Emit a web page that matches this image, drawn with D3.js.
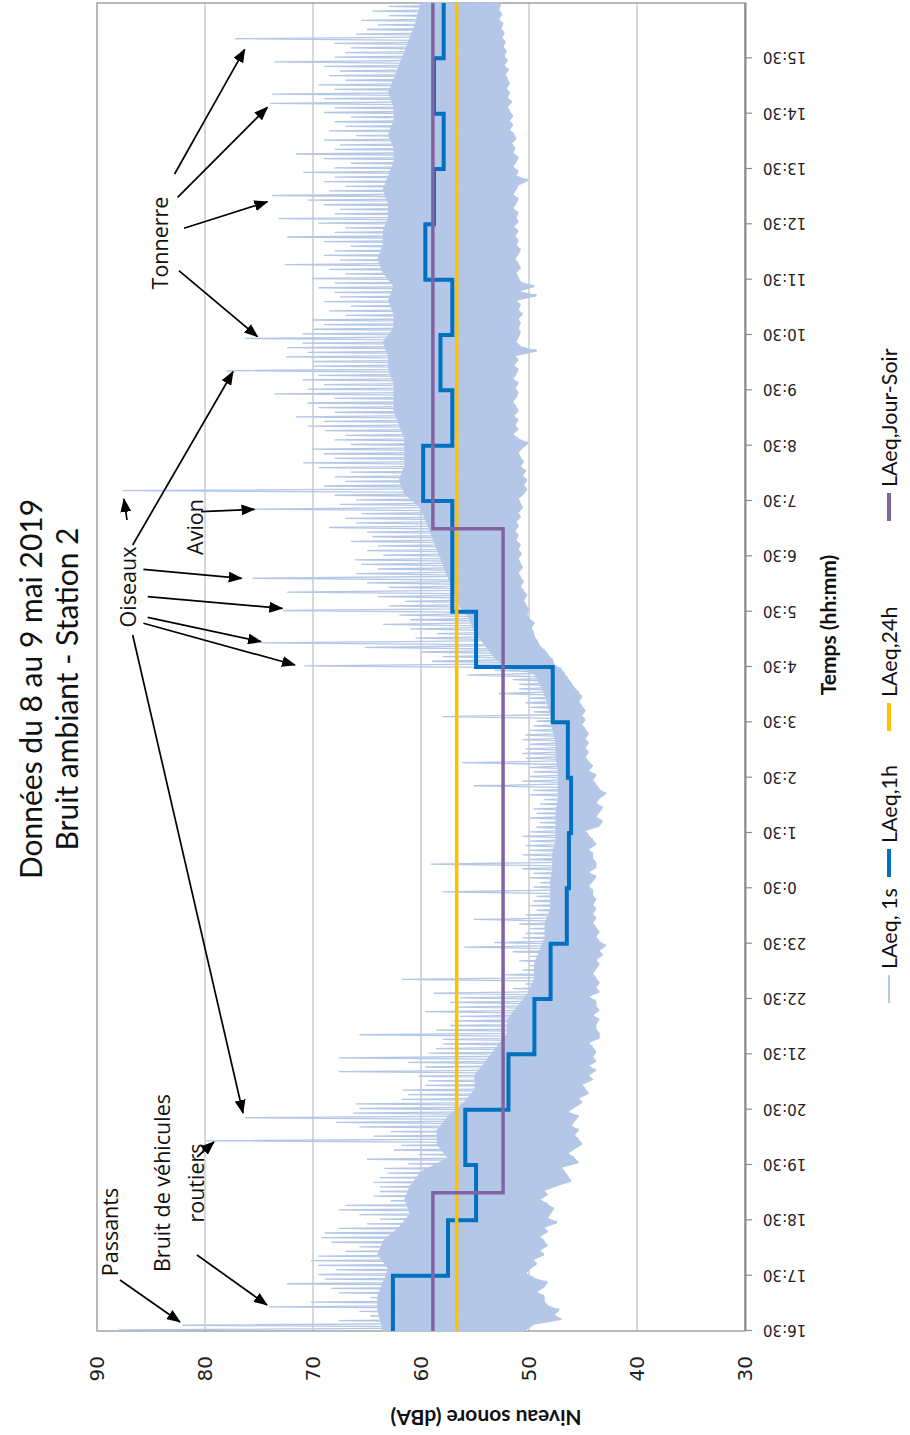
<!DOCTYPE html>
<html>
<head>
<meta charset="utf-8">
<script src="https://cdn.jsdelivr.net/npm/d3@7"></script>
<style>
  html, body { margin: 0; padding: 0; background: #ffffff; }
  svg { display: block; }
</style>
</head>
<body>
<svg id="chart" width="910" height="1435"></svg>
<script>
// Time is expressed in hours after midnight on 8 May (16.5 = 16:30, 40.5 = 16:30 on 9 May)
const startHour = 16.5;
const endHour = 40.5;

const tickLabels = ["16:30","17:30","18:30","19:30","20:30","21:30","22:30","23:30",
  "0:30","1:30","2:30","3:30","4:30","5:30","6:30","7:30","8:30","9:30","10:30",
  "11:30","12:30","13:30","14:30","15:30"];

const levelTicks = [30, 40, 50, 60, 70, 80, 90];

// LAeq,1h — one value per hour, starting at 16:30
const laeq1h = [62.6, 57.5, 54.9, 55.9, 51.9, 49.5, 48.0, 46.5, 46.3, 46.1, 46.4, 47.8,
                54.9, 57.1, 57.1, 59.8, 57.1, 58.2, 57.1, 59.6, 58.8, 57.9, 58.8, 57.9];

// LAeq,24h
const laeq24h = 56.7;

// LAeq,Jour-Soir — period boundaries (hours) and level of each period
const jourSoirBounds = [16.5, 19, 31, 40.5];
const jourSoirLevels = [58.9, 52.4, 58.9];

// LAeq,1s — highest and lowest level in each 5-minute slice (12 slices per hour)
const peak1s = [
  88.0, 82.1, 67.6, 64.7, 65.7, 74.1, 70.2, 64.7, 67.6, 68.3, 72.4, 68.9,
  69.5, 67.9, 69.5, 70.2, 69.5, 67.0, 65.7, 68.3, 69.2, 68.9, 67.6, 65.0,
  63.8, 65.7, 67.6, 67.0, 62.8, 64.4, 63.8, 63.8, 64.4, 63.8, 63.1, 63.4,
  61.2, 65.0, 60.2, 62.5, 61.8, 80.0, 64.4, 62.8, 65.7, 67.9, 76.3, 66.3,
  65.7, 66.0, 61.8, 61.2, 61.7, 59.6, 59.3, 60.2, 67.6, 59.6, 61.2, 67.6,
  59.3, 58.6, 58.0, 58.0, 65.7, 58.6, 57.3, 57.0, 56.4, 59.6, 56.7, 57.3,
  56.4, 58.8, 51.5, 50.3, 61.8, 52.2, 50.6, 49.9, 50.9, 49.9, 51.5, 56.0,
  53.2, 50.6, 50.3, 49.9, 50.9, 55.1, 50.3, 49.3, 49.9, 49.6, 49.3, 58.0,
  49.6, 49.0, 49.9, 49.6, 50.6, 59.1, 49.9, 50.6, 49.9, 50.3, 49.9, 50.6,
  49.9, 49.3, 49.0, 49.9, 49.3, 49.6, 49.0, 48.6, 49.9, 49.6, 55.1, 50.6,
  49.9, 49.6, 49.9, 56.2, 50.3, 50.6, 50.3, 49.9, 50.6, 50.3, 49.9, 49.6,
  49.3, 58.0, 49.6, 49.9, 50.3, 49.9, 52.8, 50.9, 50.9, 51.5, 55.7, 53.2,
  70.8, 59.0, 58.0, 60.0, 65.2, 74.8, 60.5, 58.5, 61.0, 63.5, 61.0, 62.0,
  72.8, 63.0, 61.5, 64.0, 72.4, 63.0, 65.0, 75.6, 66.0, 64.0, 65.5, 66.1,
  63.5, 65.0, 64.0, 66.5, 64.5, 65.0, 68.5, 66.0, 67.0, 65.5, 75.8, 67.5,
  66.0, 68.0, 87.6, 69.0, 67.0, 68.0, 66.5, 69.5, 70.9, 68.0, 69.0, 70.1,
  66.5, 68.0, 67.0, 68.9, 70.5, 69.0, 71.6, 68.0, 69.5, 70.5, 68.0, 73.6,
  70.5, 69.0, 71.0, 69.5, 78.0, 70.0, 70.0, 72.5, 70.5, 72.4, 71.0, 76.3,
  71.0, 70.0, 69.0, 70.1, 67.0, 68.5, 66.5, 69.0, 67.5, 68.0, 69.5, 68.0,
  70.1, 67.0, 68.5, 72.6, 67.5, 69.0, 68.0, 66.5, 69.0, 72.4, 68.0, 67.0,
  69.5, 73.2, 68.0, 67.5, 69.0, 70.5, 73.8, 68.5, 67.0, 69.0, 68.0, 70.9,
  68.0, 66.5, 69.0, 71.6, 68.0, 67.5, 69.0, 66.0, 68.5, 67.0, 68.0, 66.5,
  69.0, 68.0, 74.0, 69.0, 73.8, 68.0, 69.5, 67.0, 68.5, 67.5, 69.0, 73.6,
  68.0, 67.0, 66.5, 68.0, 77.2, 66.0, 65.0, 64.0, 65.5, 63.0, 64.5, 63.0
];
const trough1s = [
  50.5, 49.5, 47.0, 47.7, 47.2, 48.3, 48.6, 48.6, 49.3, 48.6, 48.3, 49.6,
  50.3, 49.9, 49.3, 49.6, 48.6, 49.0, 48.3, 48.6, 49.0, 48.3, 48.6, 47.4,
  48.3, 48.0, 47.7, 48.3, 49.0, 48.3, 48.6, 47.4, 46.1, 46.4, 46.7, 47.0,
  45.4, 45.8, 46.4, 45.8, 45.1, 45.4, 45.8, 45.4, 46.1, 45.8, 45.4, 46.4,
  45.8, 45.1, 45.4, 44.5, 44.8, 45.1, 44.1, 44.5, 43.8, 44.5, 43.8, 44.1,
  43.8, 44.1, 44.5, 43.5, 43.5, 43.8, 43.8, 43.5, 44.1, 43.5, 43.8, 43.8,
  44.5, 43.5, 43.8, 43.5, 43.8, 44.1, 43.8, 43.5, 43.8, 43.2, 43.5, 42.9,
  43.5, 43.8, 43.5, 43.8, 44.1, 43.8, 44.1, 43.8, 44.1, 43.8, 44.1, 44.1,
  44.5, 44.1, 43.8, 44.5, 43.8, 43.8, 44.1, 44.1, 44.5, 43.8, 44.1, 44.5,
  44.8, 43.5, 43.2, 43.8, 43.5, 43.2, 43.8, 43.5, 42.9, 43.5, 43.8, 44.1,
  43.8, 44.5, 44.1, 44.5, 44.8, 44.5, 44.8, 44.5, 44.8, 44.5, 44.8, 45.1,
  44.8, 45.1, 44.8, 45.1, 45.4, 45.1, 45.4, 45.8, 46.1, 46.4, 46.7, 47.0,
  47.7, 47.8, 48.2, 48.5, 49.0, 49.2, 49.5, 49.6, 49.8, 49.5, 50.0, 50.2,
  50.0, 50.3, 50.5, 50.2, 50.5, 50.8, 50.5, 50.8, 51.0, 50.6, 50.8, 51.0,
  50.7, 51.0, 50.8, 51.2, 51.0, 51.3, 51.0, 51.2, 50.8, 51.0, 50.6, 50.8,
  51.0, 50.5, 50.2, 50.5, 50.2, 50.6, 50.3, 50.8, 50.5, 50.8, 51.0, 50.6,
  50.1, 51.0, 51.5, 51.0, 51.3, 51.0, 51.4, 51.0, 51.2, 51.5, 51.2, 51.0,
  51.3, 51.0, 51.5, 51.2, 51.0, 51.4, 51.0, 51.3, 49.3, 50.8, 51.2, 51.0,
  50.8, 51.0, 50.8, 51.0, 50.6, 51.0, 50.8, 51.2, 49.3, 51.0, 49.5, 50.8,
  51.0, 51.2, 50.8, 51.0, 51.3, 51.0, 50.8, 51.2, 51.0, 51.3, 51.0, 51.4,
  51.0, 51.2, 51.0, 51.5, 51.2, 51.0, 51.5, 51.2, 51.0, 50.1, 51.2, 51.0,
  51.5, 51.2, 51.0, 51.5, 51.3, 51.6, 51.2, 51.4, 51.8, 51.5, 51.8, 51.5,
  51.8, 52.0, 51.6, 52.0, 51.8, 52.1, 51.8, 52.0, 52.2, 51.9, 52.3, 52.0,
  52.3, 52.1, 52.4, 52.2, 52.5, 52.3, 52.6, 52.4, 52.8, 52.5, 52.8, 52.6
];
// LAeq,1s — upper edge of the dense part of the trace, per quarter hour
const core1s = [
  63.5, 64.0, 64.0, 63.5,  63.0, 64.0, 63.5, 62.0,  61.0, 61.5, 61.0, 60.0,
  57.5, 58.5, 58.5, 57.5,  56.0, 55.0, 55.0, 54.0,  53.0, 52.0, 52.0, 51.0,
  50.0, 49.5, 49.5, 49.0,  48.5, 48.5, 48.0, 48.0,  48.0, 47.8, 47.8, 47.5,
  47.5, 47.5, 47.3, 47.3,  47.3, 47.5, 47.5, 47.8,  48.0, 48.3, 48.8, 49.5,
  53.0, 54.0, 55.0, 55.5,  56.5, 57.0, 57.5, 58.0,  58.5, 59.0, 59.5, 60.0,
  61.5, 62.0, 61.5, 61.5,  61.5, 62.0, 62.5, 62.5,  62.5, 63.0, 63.0, 63.5,
  62.5, 62.5, 63.0, 62.5,  63.5, 64.0, 63.5, 63.5,  63.0, 63.0, 63.5, 63.0,
  62.5, 62.5, 63.0, 62.5,  62.5, 63.0, 62.5, 62.0,  61.5, 61.0, 60.5, 60.0
];

// Legend entries
const legendNames = ["LAeq, 1s", "LAeq,1h", "LAeq,24h", "LAeq,Jour-Soir"];

const titleLines = ["Données du 8 au 9 mai 2019", "Bruit ambiant - Station 2"];

const colors = {
  s1: "#b4c7e7",
  h1: "#0070c0",
  h24: "#ffc000",
  js: "#8064a2",
  grid: "#b0b0b0",
  frame: "#8c8c8c"
};

// ---- The chart is laid out in a 1435 x 910 landscape frame, then turned a quarter turn
const W = 1435, H = 910;
const svg = d3.select("#chart");
const g = svg.append("g").attr("transform", `translate(0,${W}) rotate(-90)`);

const x = d3.scaleLinear().domain([startHour, endHour]).range([104, 1432]);
const y = d3.scaleLinear().domain([30, 90]).range([745, 97]);

// arrow marker
svg.append("defs").append("marker")
  .attr("id", "arrow")
  .attr("markerUnits", "userSpaceOnUse")
  .attr("markerWidth", 14).attr("markerHeight", 11)
  .attr("refX", 13).attr("refY", 5.5)
  .attr("orient", "auto")
  .append("path").attr("d", "M0,0 L14,5.5 L0,11 Z").attr("fill", "#000");

// gridlines
g.append("g").selectAll("line")
  .data(levelTicks.filter(v => v > 30 && v < 90))
  .join("line")
  .attr("x1", x(startHour)).attr("x2", x(endHour))
  .attr("y1", d => y(d)).attr("y2", d => y(d))
  .attr("stroke", colors.grid).attr("stroke-width", 1);

// plot frame
g.append("rect")
  .attr("x", x(startHour)).attr("y", y(90))
  .attr("width", x(endHour) - x(startHour)).attr("height", y(30) - y(90))
  .attr("fill", "none").attr("stroke", colors.frame).attr("stroke-width", 1.2);

// LAeq,1s : dense body of the trace (quarter-hour upper edge down to the slice minima)
const corePts = core1s.map((v, i) => [startHour + (i + 0.5) / 4, v]);
corePts[0][0] = startHour;
corePts[corePts.length - 1][0] = endHour;
const troughPts = trough1s.map((v, k) => [startHour + (k + 0.5) / 12, v]);
troughPts[0][0] = startHour;
troughPts[troughPts.length - 1][0] = endHour;
const bodyPath = d3.line().x(d => x(d[0])).y(d => y(d[1]))(corePts.concat(troughPts.slice().reverse())) + "Z";
g.append("path")
  .attr("d", bodyPath)
  .attr("fill", colors.s1)
  .attr("stroke", colors.s1)
  .attr("stroke-width", 1);

// LAeq,1s : alternate the high and low of each 5-minute slice
const pts1s = [];
peak1s.forEach((p, k) => {
  const t0 = startHour + k / 12;
  pts1s.push([t0 + 1 / 48, p]);
  pts1s.push([t0 + 3 / 48, trough1s[k]]);
});
g.append("path")
  .datum(pts1s)
  .attr("fill", "none")
  .attr("stroke", colors.s1)
  .attr("stroke-width", 1.3)
  .attr("d", d3.line().x(d => x(d[0])).y(d => y(d[1])));

// LAeq,1h
const pts1h = laeq1h.map((v, i) => [startHour + i, v]);
pts1h.push([endHour, laeq1h[laeq1h.length - 1]]);
g.append("path")
  .datum(pts1h)
  .attr("fill", "none").attr("stroke", colors.h1).attr("stroke-width", 4)
  .attr("d", d3.line().curve(d3.curveStepAfter).x(d => x(d[0])).y(d => y(d[1])));

// LAeq,24h
g.append("path")
  .datum([[startHour, laeq24h], [endHour, laeq24h]])
  .attr("fill", "none").attr("stroke", colors.h24).attr("stroke-width", 3.5)
  .attr("d", d3.line().x(d => x(d[0])).y(d => y(d[1])));

// LAeq,Jour-Soir
const ptsJS = jourSoirLevels.map((v, i) => [jourSoirBounds[i], v]);
ptsJS.push([endHour, jourSoirLevels[jourSoirLevels.length - 1]]);
g.append("path")
  .datum(ptsJS)
  .attr("fill", "none").attr("stroke", colors.js).attr("stroke-width", 3.5)
  .attr("d", d3.line().curve(d3.curveStepAfter).x(d => x(d[0])).y(d => y(d[1])));

// time axis
const tickHours = tickLabels.map((_, i) => startHour + i);
const xAxis = g.append("g")
  .attr("transform", `translate(0,${y(30)})`)
  .call(d3.axisBottom(x).tickValues(tickHours).tickFormat((d, i) => tickLabels[i])
    .tickSize(7).tickSizeOuter(0));
xAxis.select(".domain").attr("stroke", colors.frame).attr("stroke-width", 2);
xAxis.selectAll(".tick line").attr("stroke", colors.frame).attr("stroke-width", 1.2);
xAxis.selectAll(".tick text")
  .attr("transform", "rotate(-90)")
  .attr("x", -18).attr("y", 0).attr("dy", "0.36em")
  .attr("text-anchor", "end")
  .attr("fill", "#222")
  .style("font-family", "'DejaVu Sans', Verdana, sans-serif")
  .style("font-size", "15px");

// level axis
const yAxis = g.append("g")
  .attr("transform", `translate(${x(startHour)},0)`)
  .call(d3.axisLeft(y).tickValues(levelTicks).tickSize(0).tickPadding(25));
yAxis.select(".domain").remove();
yAxis.selectAll(".tick text")
  .attr("fill", "#222")
  .style("font-family", "'DejaVu Sans', Verdana, sans-serif")
  .style("font-size", "20px");

// axis titles
g.append("text")
  .attr("transform", `translate(25,${(y(30) + y(90)) / 2 + 65}) rotate(-90)`)
  .attr("text-anchor", "middle")
  .style("font-family", "Lato, sans-serif").style("font-weight", "bold").style("font-size", "21px")
  .attr("fill", "#111")
  .text("Niveau sonore (dBA)");

g.append("text")
  .attr("x", 810).attr("y", 836)
  .attr("text-anchor", "middle")
  .style("font-family", "Lato, sans-serif").style("font-weight", "bold").style("font-size", "21px")
  .attr("fill", "#111")
  .text("Temps (hh:mm)");

// title
g.selectAll("text.title")
  .data(titleLines)
  .join("text")
  .attr("class", "title")
  .attr("x", 746).attr("y", (d, i) => 42 + i * 36)
  .attr("text-anchor", "middle")
  .style("font-family", "Lato, sans-serif").style("font-size", "30px")
  .attr("fill", "#111")
  .text(d => d);

// legend
const legendItems = [
  { name: legendNames[0], color: colors.s1, width: 2, x0: 432 },
  { name: legendNames[1], color: colors.h1, width: 4, x0: 558 },
  { name: legendNames[2], color: colors.h24, width: 4, x0: 704 },
  { name: legendNames[3], color: colors.js, width: 4, x0: 914 }
];
const lg = g.append("g");
legendItems.forEach(it => {
  lg.append("line").attr("x1", it.x0).attr("x2", it.x0 + 28)
    .attr("y1", 889).attr("y2", 889)
    .attr("stroke", it.color).attr("stroke-width", it.width);
  lg.append("text").attr("x", it.x0 + 34).attr("y", 897)
    .style("font-family", "Lato, sans-serif").style("font-size", "21.5px")
    .attr("fill", "#111").text(it.name);
});

// annotations
const notes = [
  { lines: ["Tonnerre"], x: 1192, y: 168 },
  { lines: ["Oiseaux"], x: 848, y: 136 },
  { lines: ["Avion"], x: 908, y: 203 },
  { lines: ["Passants"], x: 203, y: 118 },
  { lines: ["Bruit de véhicules", "routiers"], x: 252, y: 170 }
];
notes.forEach(n => {
  n.lines.forEach((l, i) => {
    g.append("text").attr("x", n.x).attr("y", n.y + i * 34)
      .attr("text-anchor", "middle")
      .style("font-family", "'Open Sans', sans-serif").style("font-size", "21.5px")
      .attr("fill", "#111").text(l);
  });
});

const arrows = [
  [1261, 174.6, 1385.7, 244.7],
  [1237.7, 177.6, 1327.7, 267.4],
  [1206.7, 184, 1233.3, 267.4],
  [1164.3, 178.9, 1098.3, 257.5],
  [865.7, 143.4, 856.7, 241.7],
  [838.3, 147.7, 826.7, 282.3],
  [817.7, 147.7, 793.3, 261],
  [811.7, 143.4, 770, 295],
  [890, 132.7, 1063.3, 233],
  [800, 132.7, 322, 243],
  [915, 127, 936, 124],
  [923.3, 201, 925.7, 254.5],
  [155, 120, 113, 180],
  [180, 197, 130, 267],
  [278, 197, 293, 214]
];
g.append("g").selectAll("line")
  .data(arrows)
  .join("line")
  .attr("x1", d => d[0]).attr("y1", d => d[1])
  .attr("x2", d => d[2]).attr("y2", d => d[3])
  .attr("stroke", "#000").attr("stroke-width", 1.7)
  .attr("marker-end", "url(#arrow)");
</script>
</body>
</html>
